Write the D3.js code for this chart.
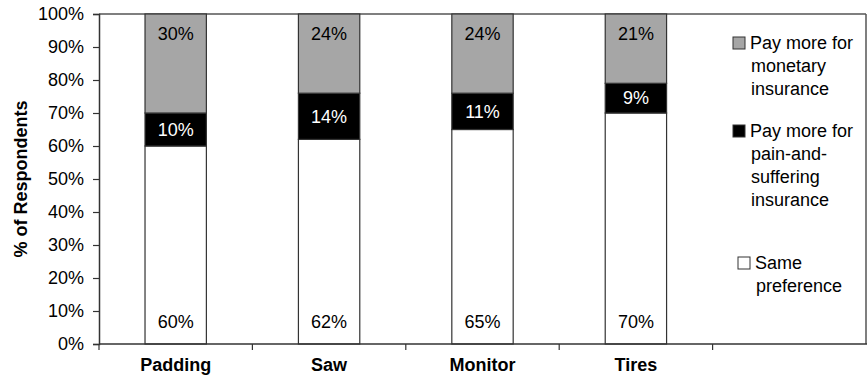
<!DOCTYPE html>
<html>
<head>
<meta charset="utf-8">
<script src="https://cdn.jsdelivr.net/npm/d3@7"></script>
<style>
body{margin:0;background:#fff;}
text{font-family:"Liberation Sans",Arial,Helvetica,sans-serif;}
</style>
</head>
<body>
<svg id="chart" width="867" height="379"></svg>
<script>
var svg = d3.select("#chart");

// data
var categories = ["Padding","Saw","Monitor","Tires",""];
var same = [60,62,65,70];
var painSuffering = [10,14,11,9];
var monetary = [30,24,24,21];
var yTicks = [0,10,20,30,40,50,60,70,80,90,100];
var legendItems = [
  {lines:["Pay more for","monetary","insurance"], color:"#a6a6a6"},
  {lines:["Pay more for","pain-and-","suffering","insurance"], color:"#000"},
  {lines:["Same","preference"], color:"#fff"}
];

var mLeft = 99, mRight = 866, mTop = 14, mBottom = 344;
var fs = 18;

var x = d3.scaleBand().domain(categories).range([mLeft,mRight]).paddingInner(0).paddingOuter(0);
var y = d3.scaleLinear().domain([0,100]).range([mBottom,mTop]);
var barW = x.bandwidth()*0.4;

// frame: top and right lines
svg.append("line").attr("x1",mLeft).attr("x2",mRight).attr("y1",mTop).attr("y2",mTop)
  .attr("stroke","#555").attr("stroke-width",1.5);
svg.append("line").attr("x1",mRight).attr("x2",mRight).attr("y1",mTop).attr("y2",mBottom)
  .attr("stroke","#555").attr("stroke-width",1.5);

var rows = categories.slice(0,4).map(function(c,i){
  return {cat:c, segs:[
    {y0:0, y1:same[i], v:same[i], fill:"#fff", tc:"#000", pos:"base"},
    {y0:same[i], y1:same[i]+painSuffering[i], v:painSuffering[i], fill:"#000", tc:"#fff", pos:"mid"},
    {y0:same[i]+painSuffering[i], y1:100, v:monetary[i], fill:"#a6a6a6", tc:"#000", pos:"end"}
  ]};
});

var bars = svg.append("g").selectAll("g").data(rows).enter().append("g");
bars.selectAll("rect").data(function(d){ return d.segs.map(function(s){ s.cat=d.cat; return s; }); })
  .enter().append("rect")
  .attr("x", function(d){ return x(d.cat)+(x.bandwidth()-barW)/2; })
  .attr("width", barW)
  .attr("y", function(d){ return y(d.y1); })
  .attr("height", function(d){ return y(d.y0)-y(d.y1); })
  .attr("fill", function(d){ return d.fill; })
  .attr("stroke","#333").attr("stroke-width",1.2);

bars.selectAll("text").data(function(d){ return d.segs; })
  .enter().append("text")
  .attr("x", function(d){ return x(d.cat)+x.bandwidth()/2; })
  .attr("y", function(d){
    if(d.pos=="base") return y(d.y0)-22;
    if(d.pos=="end") return y(d.y1)+20;
    return (y(d.y0)+y(d.y1))/2;
  })
  .attr("dy",".35em")
  .attr("text-anchor","middle")
  .attr("font-size",fs)
  .attr("fill", function(d){ return d.tc; })
  .text(function(d){ return d.v+"%"; });

// y axis
var yAxis = d3.axisLeft(y).tickValues(yTicks).tickSize(6).tickPadding(9)
  .tickFormat(function(d){ return d+"%"; });
var gy = svg.append("g").attr("transform","translate("+mLeft+",0)").call(yAxis);
gy.select(".domain").attr("stroke","#333").attr("stroke-width",1.5);
gy.selectAll(".tick line").attr("stroke","#333").attr("stroke-width",1.2);
gy.selectAll("text").attr("font-size",fs).attr("fill","#000")
  .style("font-family","'Liberation Sans',Arial,sans-serif");

// x axis
var gx = svg.append("g").attr("transform","translate(0,"+mBottom+")");
gx.append("line").attr("x1",mLeft).attr("x2",mRight+1).attr("y1",0).attr("y2",0)
  .attr("stroke","#333").attr("stroke-width",1.5);
gx.selectAll(".xt").data(categories).enter().append("line")
  .attr("x1", function(d){ return x(d); }).attr("x2", function(d){ return x(d); })
  .attr("y1",0).attr("y2",6).attr("stroke","#333").attr("stroke-width",1.2);
gx.selectAll(".xl").data(categories).enter().append("text")
  .attr("x", function(d){ return x(d)+x.bandwidth()/2; })
  .attr("y",27)
  .attr("text-anchor","middle")
  .attr("font-size",fs).attr("font-weight","bold")
  .text(function(d){ return d; });

// y title
svg.append("text")
  .attr("transform","translate(27,"+((mTop+mBottom)/2)+") rotate(-90)")
  .attr("text-anchor","middle")
  .attr("font-size",fs).attr("font-weight","bold")
  .text("% of Respondents");

// legend
var lineH = 23;
var lg = svg.append("g");
var ly = [43,131,263];
legendItems.forEach(function(item,i){
  var sx = i==2 ? 738 : 733;
  var tx = i==2 ? 755 : 750;
  lg.append("rect").attr("x",sx).attr("y",ly[i]-6).attr("width",12).attr("height",12)
    .attr("fill",item.color).attr("stroke","#333").attr("stroke-width",1);
  item.lines.forEach(function(t,j){
    lg.append("text").attr("x", j==0 ? tx : tx+1).attr("y",ly[i]+j*lineH)
      .attr("dy",".35em").attr("font-size",fs).text(t);
  });
});
</script>
</body>
</html>
